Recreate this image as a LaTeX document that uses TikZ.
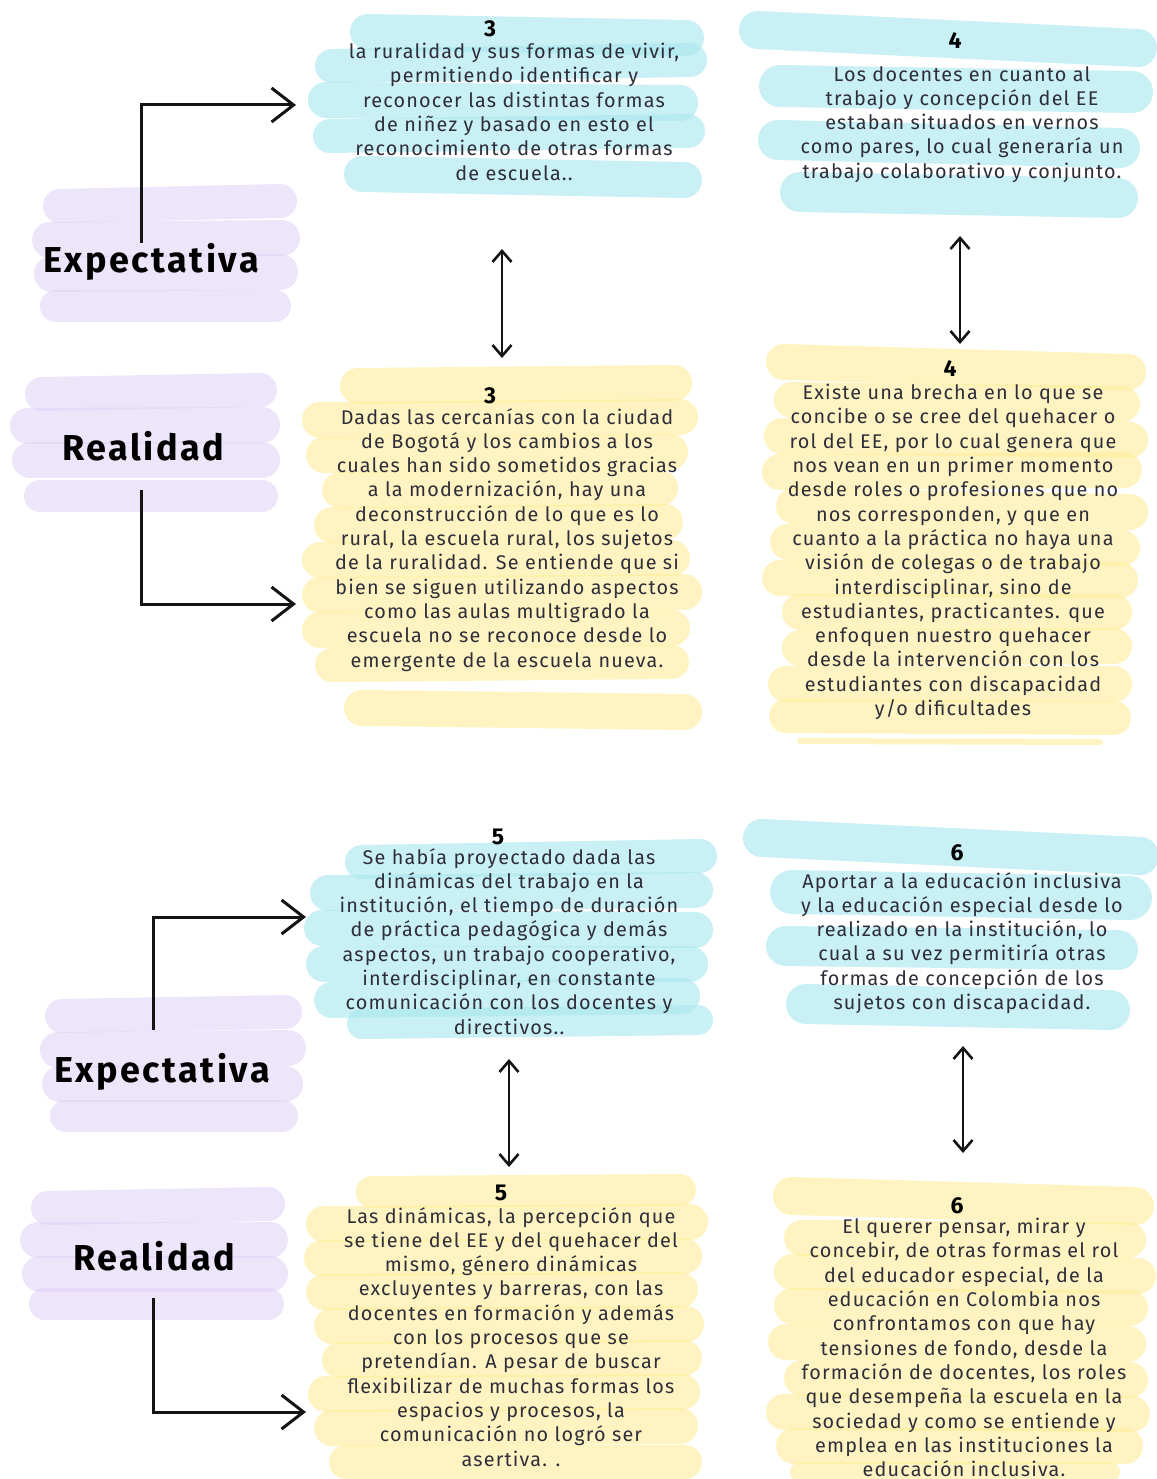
\documentclass[tikz,border=0pt]{standalone}
\usepackage{fontspec}
\setmainfont{Fira Sans}
\usetikzlibrary{arrows.meta}
\definecolor{cy}{HTML}{A6E7EE}
\definecolor{yl}{HTML}{FFEE99}
\definecolor{lv}{HTML}{E2D4F7}
\definecolor{txt}{HTML}{2E2E3A}
\newcommand\brushes[3]{\foreach \xa/\ya/\xb/\yb/\hh in {#3}{\draw[draw=#1,line cap=round,line width=\hh pt,opacity=#2] (\xa,\ya) -- (\xb,\yb);}}
\tikzset{
  boxtext/.style={anchor=north, align=center, inner sep=0pt, text=txt, font=\fontsize{19.8}{24.3}\selectfont\addfontfeatures{LetterSpace=6}},
  numtext/.style={inner sep=0pt, font=\fontsize{23}{24}\selectfont\bfseries, text=black},
  labeltext/.style={anchor=base, inner sep=0pt, text=black, font=\fontsize{36}{40}\selectfont\bfseries\addfontfeatures{LetterSpace=7}},
  elbow/.style={line width=3pt, draw=black!92, -{Straight Barb[length=22pt,width=34pt,line width=3pt]}},
  dbl/.style={line width=2.6pt, draw=black!92, {Straight Barb[length=11pt,width=19pt]}-{Straight Barb[length=11pt,width=19pt]}}
}
\begin{document}
\begin{tikzpicture}[x=1pt,y=-1pt]
\useasboundingbox (0,0) rectangle (1156,1479);
\fill[white] (0,0) rectangle (1156,1479);

% ---------- brush backgrounds ----------
% box 3 expectativa (cyan)
\brushes{cy}{0.6}{368/32/686/38/36, 332/66/690/60/34, 326/100/680/103/36, 330/136/688/131/34, 362/174/684/180/36}
% box 4 expectativa (cyan)
\brushes{cy}{0.6}{758/30/1138/48/38, 780/86/1132/92/42, 778/140/1120/148/40, 800/192/1118/198/40}
% box 3 realidad (yellow)
\brushes{yl}{0.6}{358/386/674/383/36, 320/420/680/417/36, 324/455/670/452/36, 340/490/660/488/36, 332/525/665/522/36, 320/560/672/558/36, 320/595/684/592/36, 320/630/672/628/36, 332/665/672/662/34, 362/708/684/712/36}
% box 4 realidad (yellow)
\brushes{yl}{0.6}{784/362/1128/372/36, 792/400/1122/404/36, 782/436/1130/440/36, 780/472/1124/470/36, 794/506/1130/512/36, 788/542/1122/548/36, 780/578/1120/580/36, 800/612/1114/612/36, 800/648/1114/646/36, 786/684/1114/684/36, 786/716/1114/718/34, 800/741/1100/742/6}
% box 5 expectativa (cyan)
\brushes{cy}{0.6}{362/862/700/856/34, 328/893/695/890/36, 322/928/695/930/36, 324/964/690/964/36, 332/1000/682/996/36, 362/1024/698/1020/30}
% box 6 expectativa (cyan)
\brushes{cy}{0.6}{762/838/1140/856/38, 792/892/1130/898/44, 786/946/1118/950/40, 806/1004/1110/1010/40}
% box 5 realidad (yellow)
\brushes{yl}{0.6}{372/1192/680/1190/32, 324/1224/690/1222/36, 322/1258/684/1256/36, 324/1292/680/1290/36, 332/1326/686/1324/36, 340/1360/684/1358/36, 326/1394/682/1392/36, 332/1428/680/1426/36, 346/1462/685/1462/34}
% box 6 realidad (yellow)
\brushes{yl}{0.6}{792/1196/1135/1206/38, 802/1238/1128/1240/36, 792/1272/1138/1276/36, 792/1306/1130/1308/36, 786/1342/1128/1344/36, 802/1378/1130/1380/36, 784/1412/1132/1414/36, 794/1446/1125/1446/36, 800/1472/1110/1472/20}
% labels (lavender)
\brushes{lv}{0.6}{60/206/280/201/34, 50/240/282/238/36, 52/274/280/272/36, 56/306/275/306/32}
\brushes{lv}{0.6}{42/394/260/390/34, 28/426/262/425/36, 30/460/262/460/36, 40/496/262/496/32}
\brushes{lv}{0.6}{62/1016/285/1012/34, 58/1050/288/1048/36, 60/1084/285/1084/36, 66/1116/282/1116/32}
\brushes{lv}{0.6}{48/1208/268/1204/34, 38/1240/270/1240/36, 40/1274/270/1274/36, 45/1304/268/1304/32}

% ---------- labels ----------
\node[labeltext] (lexp1) at (151,272) {Expectativa};
\node[labeltext] (lreal1) at (143,460) {Realidad};
\node[labeltext] (lexp2) at (162,1082) {Expectativa};
\node[labeltext] (lreal2) at (154,1270) {Realidad};

% ---------- numbers ----------
\node[numtext] (n3e) at (490,29) {3};
\node[numtext] (n4e) at (955,41) {4};
\node[numtext] (n3r) at (490,396) {3};
\node[numtext] (n4r) at (950,369) {4};
\node[numtext] (n5e) at (498,837) {5};
\node[numtext] (n6e) at (957,853) {6};
\node[numtext] (n5r) at (501,1193) {5};
\node[numtext] (n6r) at (957,1206) {6};

% ---------- texts ----------
\node[boxtext] (b3e) at (514,43) {la ruralidad y sus formas de vivir,\\permitiendo identificar y\\reconocer las distintas formas\\de niñez y basado en esto el\\reconocimiento de otras formas\\de escuela..};
\node[boxtext] (b4e) at (962,66) {Los docentes en cuanto al\\trabajo y concepción del EE\\estaban situados en vernos\\como pares, lo cual generaría un\\trabajo colaborativo y conjunto.};
\node[boxtext] (b3r) at (507,408) {Dadas las cercanías con la ciudad\\de Bogotá y los cambios a los\\cuales han sido sometidos gracias\\a la modernización, hay una\\deconstrucción de lo que es lo\\rural, la escuela rural, los sujetos\\de la ruralidad. Se entiende que si\\bien se siguen utilizando aspectos\\como las aulas multigrado la\\escuela no se reconoce desde lo\\emergente de la escuela nueva.};
\node[boxtext] (b4r) at (953,384) {Existe una brecha en lo que se\\concibe o se cree del quehacer o\\rol del EE, por lo cual genera que\\nos vean en un primer momento\\desde roles o profesiones que no\\nos corresponden, y que en\\cuanto a la práctica no haya una\\visión de colegas o de trabajo\\interdisciplinar, sino de\\estudiantes, practicantes. que\\enfoquen nuestro quehacer\\desde la intervención con los\\estudiantes con discapacidad\\y/o dificultades};
\node[boxtext] (b5e) at (509,848) {Se había proyectado dada las\\dinámicas del trabajo en la\\institución, el tiempo de duración\\de práctica pedagógica y demás\\aspectos, un trabajo cooperativo,\\interdisciplinar, en constante\\comunicación con los docentes y\\directivos..};
\node[boxtext] (b6e) at (962,872) {Aportar a la educación inclusiva\\y la educación especial desde lo\\realizado en la institución, lo\\cual a su vez permitiría otras\\formas de concepción de los\\sujetos con discapacidad.};
\node[boxtext] (b5r) at (511,1207) {Las dinámicas, la percepción que\\se tiene del EE y del quehacer del\\mismo, género dinámicas\\excluyentes y barreras, con las\\docentes en formación y además\\con los procesos que se\\pretendían. A pesar de buscar\\flexibilizar de muchas formas los\\espacios y procesos, la\\comunicación no logró ser\\asertiva. .};
\node[boxtext] (b6r) at (964,1218) {El querer pensar, mirar y\\concebir, de otras formas el rol\\del educador especial, de la\\educación en Colombia nos\\confrontamos con que hay\\tensiones de fondo, desde la\\formación de docentes, los roles\\que desempeña la escuela en la\\sociedad y como se entiende y\\emplea en las instituciones la\\educación inclusiva.};

% ---------- connectors ----------
\coordinate (a1s) at (141,243); \coordinate (a1t) at (296,105);
\coordinate (a2s) at (141,490); \coordinate (a2t) at (296,604);
\coordinate (a3s) at (153,1030); \coordinate (a3t) at (306,917);
\coordinate (a4s) at (153,1298); \coordinate (a4t) at (306,1412);
\draw[elbow] (a1s) |- (a1t);
\draw[elbow] (a2s) |- (a2t);
\draw[elbow] (a3s) |- (a3t);
\draw[elbow] (a4s) |- (a4t);

\coordinate (d1a) at (502,249); \coordinate (d1b) at (502,358);
\coordinate (d2a) at (960,236); \coordinate (d2b) at (960,344);
\coordinate (d3a) at (509,1059); \coordinate (d3b) at (509,1167);
\coordinate (d4a) at (963,1046); \coordinate (d4b) at (963,1153);
\draw[dbl] (d1a) -- (d1b);
\draw[dbl] (d2a) -- (d2b);
\draw[dbl] (d3a) -- (d3b);
\draw[dbl] (d4a) -- (d4b);
\end{tikzpicture}
\end{document}
